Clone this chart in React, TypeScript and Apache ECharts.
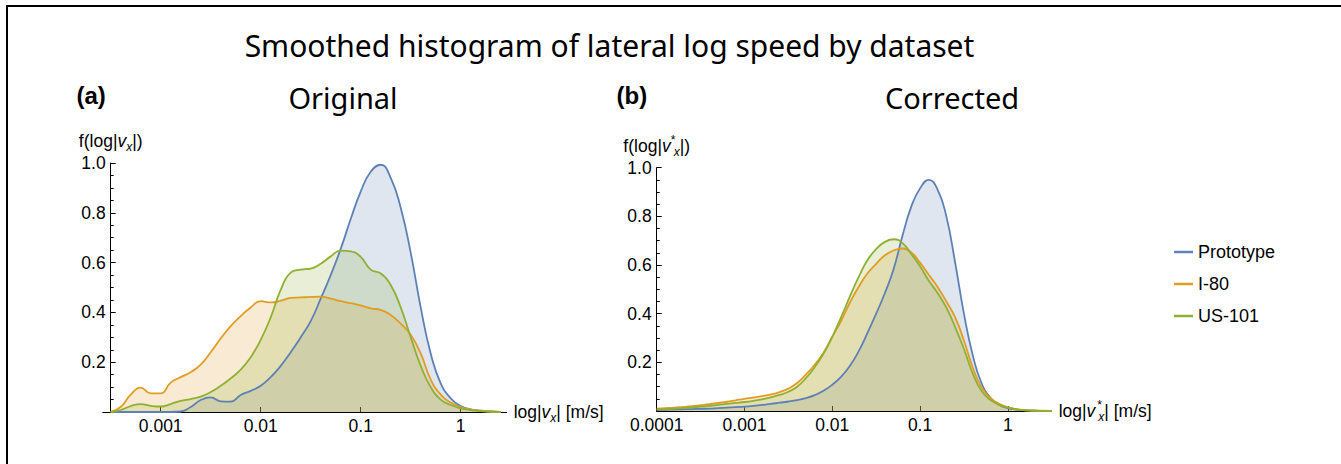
import React, { useEffect, useRef } from 'react';
import * as echarts from 'echarts';

const seriesNames = ['Prototype', 'I-80', 'US-101'];
const seriesColors = ['#5E81B5', '#E19C24', '#8FB032'];

// Panel (a) Original: x = log10 |v_x|
const leftLogSpeed = [
  -3.5, -3.4, -3.3, -3.2, -3.1, -3.0, -2.9, -2.8, -2.7, -2.6,
  -2.5, -2.4, -2.3, -2.2, -2.1, -2.0, -1.9, -1.8, -1.7, -1.6,
  -1.5, -1.4, -1.3, -1.2, -1.1, -1.0, -0.9, -0.8, -0.7, -0.6,
  -0.5, -0.4, -0.3, -0.2, -0.1, 0.0, 0.1, 0.2, 0.3, 0.4,
];
const leftPrototype = [
  0, 0, 0, 0, 0, 0, 0, 0.002, 0.02, 0.048,
  0.059, 0.043, 0.042, 0.068, 0.085, 0.105, 0.14, 0.185, 0.24, 0.3,
  0.365, 0.455, 0.55, 0.655, 0.775, 0.885, 0.965, 0.993, 0.94, 0.82,
  0.64, 0.42, 0.235, 0.115, 0.055, 0.024, 0.011, 0.005, 0.002, 0,
];
const leftI80 = [
  0, 0.02, 0.07, 0.098, 0.075, 0.075, 0.118, 0.14, 0.16, 0.19,
  0.24, 0.295, 0.345, 0.385, 0.42, 0.445, 0.44, 0.447, 0.458, 0.46,
  0.462, 0.463, 0.455, 0.445, 0.437, 0.428, 0.416, 0.41, 0.39, 0.355,
  0.31, 0.235, 0.13, 0.07, 0.038, 0.02, 0.01, 0.005, 0.002, 0,
];
const leftUS101 = [
  0, 0.008, 0.024, 0.032, 0.025, 0.022, 0.032, 0.045, 0.052, 0.062,
  0.08, 0.105, 0.135, 0.17, 0.22, 0.29, 0.38, 0.49, 0.56, 0.572,
  0.576, 0.595, 0.625, 0.648, 0.645, 0.623, 0.572, 0.556, 0.51, 0.42,
  0.3, 0.185, 0.1, 0.05, 0.028, 0.015, 0.008, 0.004, 0.001, 0,
];

// Panel (b) Corrected: x = log10 |v*_x|
const rightLogSpeed = [
  -4.0, -3.9, -3.8, -3.7, -3.6, -3.5, -3.4, -3.3, -3.2, -3.1,
  -3.0, -2.9, -2.8, -2.7, -2.6, -2.5, -2.4, -2.3, -2.2, -2.1,
  -2.0, -1.9, -1.8, -1.7, -1.6, -1.5, -1.4, -1.3, -1.2, -1.1,
  -1.0, -0.9, -0.8, -0.7, -0.6, -0.5, -0.4, -0.3, -0.2, -0.1,
  0.0, 0.1, 0.2, 0.3, 0.4, 0.5,
];
const rightPrototype = [
  0.004, 0.005, 0.006, 0.007, 0.008, 0.009, 0.01, 0.012, 0.014, 0.016,
  0.018, 0.021, 0.025, 0.029, 0.034, 0.039, 0.045, 0.053, 0.065, 0.083,
  0.108, 0.14, 0.185, 0.245, 0.32, 0.4, 0.485, 0.585, 0.72, 0.84,
  0.915, 0.95, 0.91, 0.8, 0.61, 0.4, 0.23, 0.115, 0.055, 0.026,
  0.012, 0.006, 0.003, 0.001, 0.0005, 0,
];
const rightI80 = [
  0.01, 0.012, 0.014, 0.017, 0.02, 0.024, 0.028, 0.033, 0.038, 0.044,
  0.05, 0.055, 0.061, 0.068, 0.078, 0.092, 0.115, 0.15, 0.19, 0.24,
  0.305, 0.37, 0.445, 0.51, 0.565, 0.605, 0.64, 0.66, 0.668, 0.652,
  0.61, 0.56, 0.51, 0.45, 0.385, 0.29, 0.18, 0.098, 0.054, 0.03,
  0.016, 0.008, 0.004, 0.002, 0.001, 0,
];
const rightUS101 = [
  0.007, 0.008, 0.01, 0.012, 0.015, 0.018, 0.021, 0.025, 0.029, 0.033,
  0.037, 0.042, 0.048, 0.056, 0.066, 0.079, 0.1, 0.135, 0.18, 0.235,
  0.305, 0.385, 0.47, 0.55, 0.62, 0.665, 0.695, 0.706, 0.69, 0.645,
  0.595, 0.535, 0.485, 0.425, 0.345, 0.255, 0.155, 0.083, 0.046, 0.025,
  0.014, 0.007, 0.003, 0.001, 0.0005, 0,
];

const leftTickValues = [-3, -2, -1, 0];
const leftTickLabels = ['0.001', '0.01', '0.1', '1'];
const rightTickValues = [-4, -3, -2, -1, 0];
const rightTickLabels = ['0.0001', '0.001', '0.01', '0.1', '1'];

const tickFont = 'Liberation Sans';
const titleFont = 'Noto Sans';
const tickSize = 17.5;

const nameRich = {
  v: { fontStyle: 'italic', fontFamily: tickFont, fontSize: tickSize, color: '#000', lineHeight: 24, verticalAlign: 'middle' },
  s: { fontStyle: 'italic', fontFamily: tickFont, fontSize: 12, color: '#000', lineHeight: 12, verticalAlign: 'bottom' },
  st: { fontFamily: tickFont, fontSize: 12, color: '#000', lineHeight: 14, verticalAlign: 'top', width: 1, padding: [0, 0, 0, 2] },
};
const nameStyle = {
  fontFamily: tickFont,
  fontSize: tickSize,
  color: '#000',
  lineHeight: 24,
  rich: nameRich,
};

function makeXAxis(gridIndex: number, min: number, max: number, ticks: number[], labels: string[], name: string) {
  return {
    type: 'value',
    gridIndex,
    min,
    max,
    axisLine: { show: true, onZero: false, lineStyle: { color: '#000', width: 1 } },
    axisTick: { show: true, inside: true, length: 5, customValues: ticks, lineStyle: { color: '#000' } },
    axisLabel: {
      customValues: ticks,
      formatter: (v: number) => {
        const i = ticks.findIndex((t) => Math.abs(t - v) < 1e-9);
        return i >= 0 ? labels[i] : '';
      },
      fontFamily: tickFont,
      fontSize: tickSize,
      color: '#000',
      margin: 5,
    },
    splitLine: { show: false },
    name,
    nameLocation: 'end',
    nameGap: 7,
    nameTextStyle: nameStyle,
  };
}

function makeYAxis(gridIndex: number, offset: number, name: string) {
  return {
    type: 'value',
    gridIndex,
    min: 0,
    max: 1,
    interval: 0.2,
    offset,
    axisLine: { show: true, onZero: false, lineStyle: { color: '#000', width: 1 } },
    axisTick: { show: true, inside: true, length: 5, lineStyle: { color: '#000' } },
    minorTick: { show: true, splitNumber: 4, length: 3, lineStyle: { color: '#000' } },
    splitLine: { show: false },
    axisLabel: {
      formatter: (v: number) => (v === 0 ? '' : v.toFixed(1)),
      fontFamily: tickFont,
      fontSize: tickSize,
      color: '#000',
      margin: 5,
    },
    name,
    nameLocation: 'end',
    nameGap: 10,
    nameTextStyle: nameStyle,
  };
}

function makeSeries(name: string, color: string, xs: number[], ys: number[], idx: number) {
  return {
    type: 'line',
    name,
    xAxisIndex: idx,
    yAxisIndex: idx,
    data: xs.map((x, i) => [x, ys[i]]),
    symbol: 'none',
    showSymbol: false,
    smooth: 0.5,
    lineStyle: { color, width: 1.8 },
    itemStyle: { color },
    areaStyle: { color, opacity: 0.2 },
  };
}

export default function App() {
  const ref = useRef<HTMLDivElement>(null);
  useEffect(() => {
    if (!ref.current) return;
    const chart = echarts.init(ref.current, null, { renderer: 'svg' });
    const option: any = {
      animation: false,
      backgroundColor: '#fff',
      color: seriesColors,
      grid: [
        { left: 102.7, top: 163, width: 404, height: 249, outerBoundsMode: 'none' },
        { left: 656.7, top: 167.7, width: 395, height: 243.3, outerBoundsMode: 'none' },
      ],
      xAxis: [
        makeXAxis(0, -3.58, 0.46, leftTickValues, leftTickLabels, 'log|{v|v}{s|x}| [m/s]'),
        makeXAxis(1, -4, 0.5, rightTickValues, rightTickLabels, 'log|{v|v}{st|*}{s|x}| [m/s]'),
      ],
      yAxis: [
        makeYAxis(0, -8, 'f(log|{v|v}{s|x}|)'),
        makeYAxis(1, 0, 'f(log|{v|v}{st|*}{s|x}|)'),
      ],
      legend: {
        orient: 'vertical',
        left: 1169,
        top: 238,
        itemWidth: 19,
        itemHeight: 2.5,
        itemGap: 14,
        icon: 'rect',
        data: seriesNames,
        selectedMode: false,
        textStyle: { fontFamily: tickFont, fontSize: 18, color: '#000', lineHeight: 18 },
      },
      graphic: [
        {
          type: 'polyline',
          shape: { points: [[7, 464], [7, 6], [1341, 6]] },
          style: { stroke: '#000', lineWidth: 2, fill: null },
        },
        {
          type: 'text', x: 609.5, y: 45,
          style: { text: 'Smoothed histogram of lateral log speed by dataset', fontFamily: titleFont, fontSize: 30, fill: '#000', align: 'center', verticalAlign: 'middle' },
        },
        {
          type: 'text', x: 343, y: 97,
          style: { text: 'Original', fontFamily: titleFont, fontSize: 29, fill: '#000', align: 'center', verticalAlign: 'middle' },
        },
        {
          type: 'text', x: 952, y: 97,
          style: { text: 'Corrected', fontFamily: titleFont, fontSize: 29, fill: '#000', align: 'center', verticalAlign: 'middle' },
        },
        {
          type: 'text', x: 76.5, y: 95,
          style: { text: '(a)', fontFamily: tickFont, fontWeight: 'bold', fontSize: 24, fill: '#000', align: 'left', verticalAlign: 'middle' },
        },
        {
          type: 'text', x: 616.5, y: 95,
          style: { text: '(b)', fontFamily: tickFont, fontWeight: 'bold', fontSize: 24, fill: '#000', align: 'left', verticalAlign: 'middle' },
        },
      ],
      series: [
        makeSeries(seriesNames[0], seriesColors[0], leftLogSpeed, leftPrototype, 0),
        makeSeries(seriesNames[1], seriesColors[1], leftLogSpeed, leftI80, 0),
        makeSeries(seriesNames[2], seriesColors[2], leftLogSpeed, leftUS101, 0),
        makeSeries(seriesNames[0], seriesColors[0], rightLogSpeed, rightPrototype, 1),
        makeSeries(seriesNames[1], seriesColors[1], rightLogSpeed, rightI80, 1),
        makeSeries(seriesNames[2], seriesColors[2], rightLogSpeed, rightUS101, 1),
      ],
    };
    chart.setOption(option);
    return () => chart.dispose();
  }, []);
  return (
    <div
      ref={ref}
      style={{ position: 'fixed', left: 0, top: 0, width: 1341, height: 464, background: '#fff' }}
    />
  );
}
